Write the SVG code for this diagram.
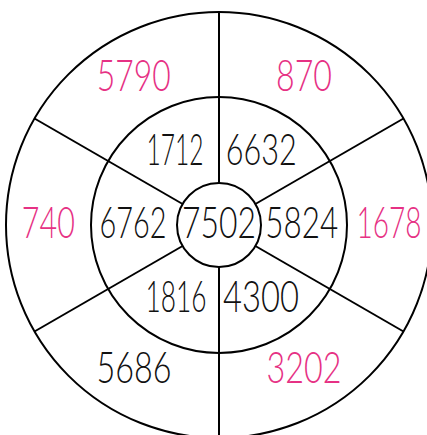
<svg xmlns="http://www.w3.org/2000/svg" width="427" height="435" viewBox="0 0 427 435">
<style>
.ring{fill:none;stroke:#000;stroke-width:2}
.sp{stroke:#000;stroke-width:2}
text{font-family:Lato,"Open Sans","Liberation Sans",sans-serif;font-size:42.5px;font-weight:300;text-anchor:middle}
.k{fill:#111}
.p{fill:#e63184}
</style>
<rect width="427" height="435" fill="#fff"/>
<g id="rings">
<circle class="ring" cx="219" cy="225" r="213"/>
<circle class="ring" cx="219" cy="225" r="128"/>
<circle class="ring" cx="219" cy="225" r="42"/>
</g>
<g id="connectors">
<line class="sp" x1="219" y1="12" x2="219" y2="183"/>
<line class="sp" x1="219" y1="267" x2="219" y2="438"/>
<line class="sp" x1="34.5" y1="118.5" x2="182.6" y2="204"/>
<line class="sp" x1="403.5" y1="118.5" x2="255.4" y2="204"/>
<line class="sp" x1="34.5" y1="331.5" x2="182.6" y2="246"/>
<line class="sp" x1="403.5" y1="331.5" x2="255.4" y2="246"/>
</g>
<g id="n-5790" transform="translate(133.7 90.7) scale(0.750 1)"><text class="p">5790</text></g>
<g id="n-870" transform="translate(304 90.7) scale(0.757 1)"><text class="p">870</text></g>
<g id="n-1712" transform="translate(175 165) scale(0.578 1)"><text class="k">1712</text></g>
<g id="n-6632" transform="translate(261.3 165) scale(0.720 1)"><text class="k">6632</text></g>
<g id="n-740" transform="translate(48.3 238.3) scale(0.717 1)"><text class="p">740</text></g>
<g id="n-6762" transform="translate(133 238.3) scale(0.680 1)"><text class="k">6762</text></g>
<g id="n-7502" transform="translate(219 238.3) scale(0.750 1)"><text class="k">7502</text></g>
<g id="n-5824" transform="translate(301.7 238.3) scale(0.740 1)"><text class="k">5824</text></g>
<g id="n-1678" transform="translate(389 238.3) scale(0.659 1)"><text class="p">1678</text></g>
<g id="n-1816" transform="translate(176 311.7) scale(0.619 1)"><text class="k">1816</text></g>
<g id="n-4300" transform="translate(261 311.7) scale(0.771 1)"><text class="k">4300</text></g>
<g id="n-5686" transform="translate(134 383.3) scale(0.761 1)"><text class="k">5686</text></g>
<g id="n-3202" transform="translate(304 383.3) scale(0.761 1)"><text class="p">3202</text></g>
</svg>
